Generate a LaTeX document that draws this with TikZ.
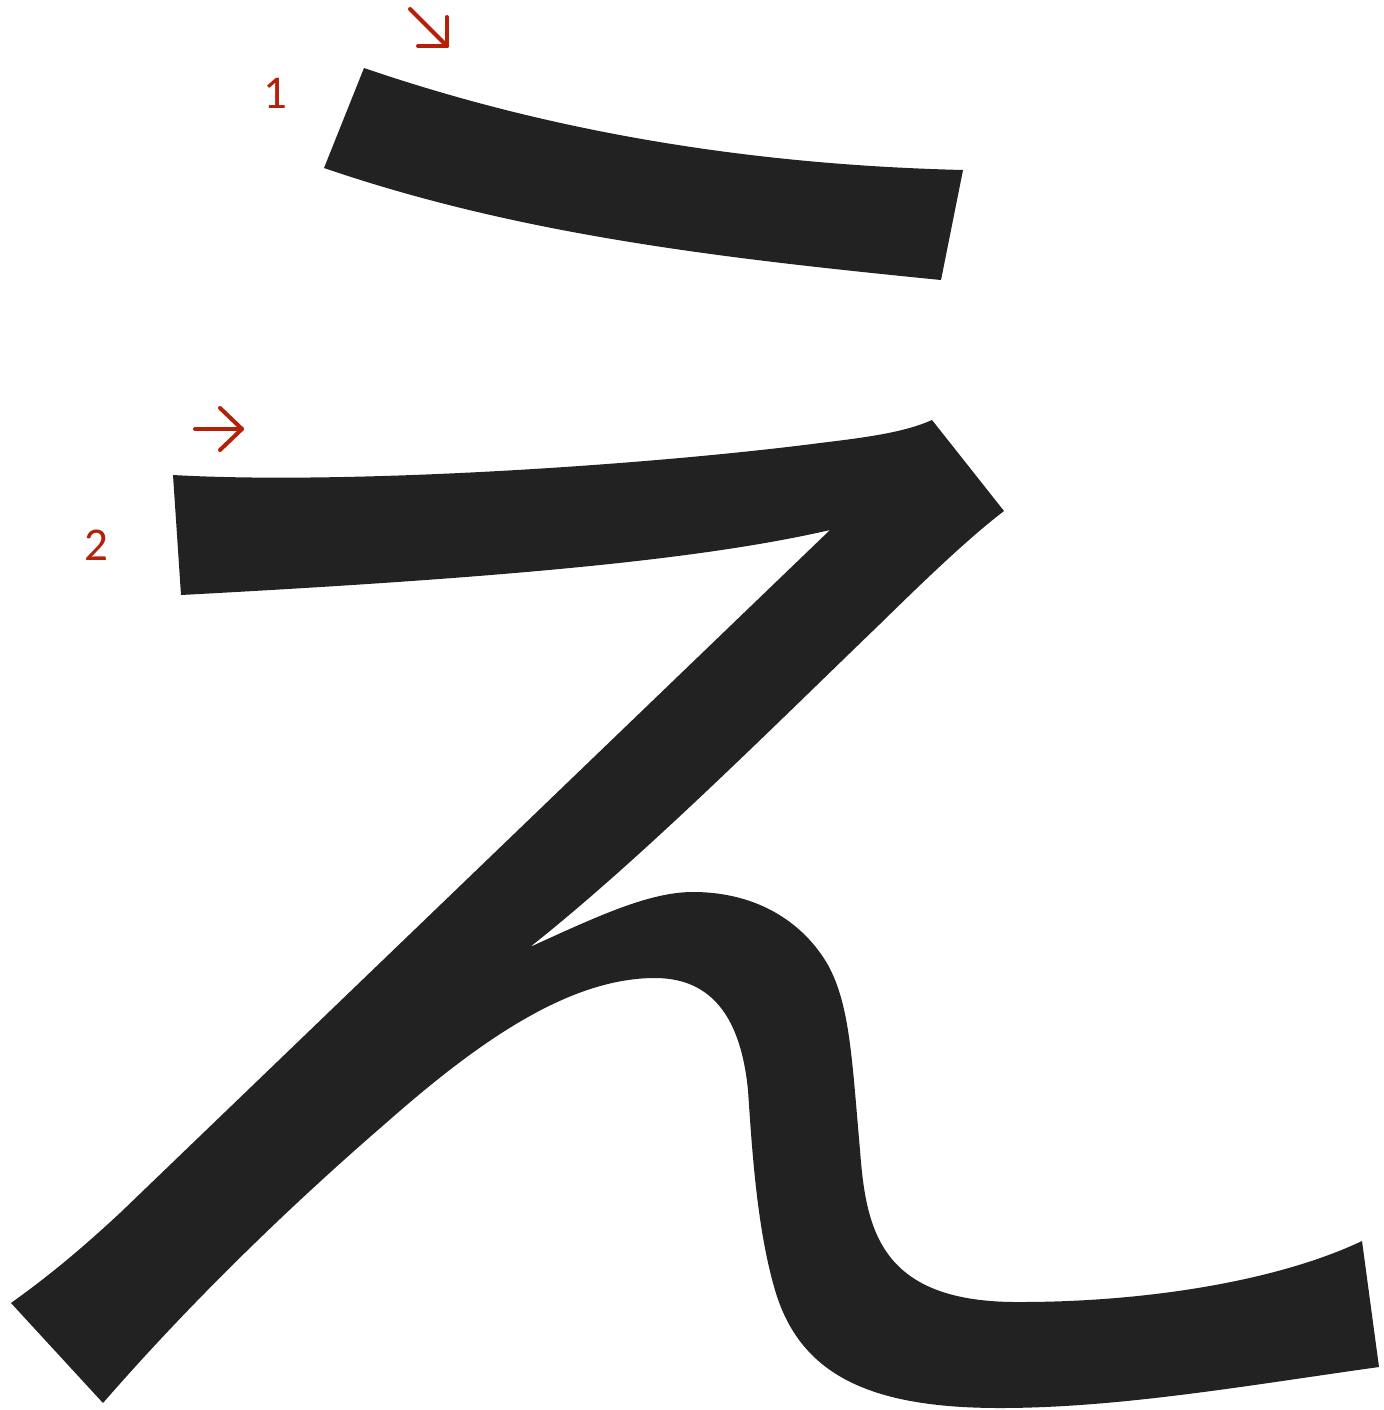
\documentclass[tikz,border=0pt]{standalone}
\usepackage{fontspec}
\setmainfont{Carlito}
\definecolor{ink}{HTML}{222222}
\definecolor{mark}{RGB}{180,32,8}
\begin{document}
\begin{tikzpicture}[x=0.5pt,y=-0.5pt,
  glyph/.style={fill=ink},
  hint/.style={draw=mark,line width=2pt,line cap=round,line join=round},
  num/.style={text=mark,font=\fontsize{23.5}{28}\selectfont,inner sep=0pt}]
\useasboundingbox (0,0) rectangle (1384,1410);
% stroke 1
\fill[glyph] (364,68) .. controls (560,135) and (760,165) .. (963,170)
  -- (941,280) .. controls (720,258) and (520,235) .. (324,168) -- cycle;
% stroke 2
\fill[glyph] (173,475) .. controls (350,485) and (650,465) .. (820,443)
  .. controls (870,437) and (905,432) .. (932,420)
  -- (1004,511) .. controls (970,537) and (930,575) .. (880,624)
  .. controls (770,730) and (640,860) .. (530,947)
  .. controls (600,915) and (650,892) .. (693,892)
  .. controls (760,892) and (805,925) .. (828,965)
  .. controls (850,1005) and (852,1060) .. (860,1150)
  .. controls (866,1230) and (880,1303) .. (1020,1302)
  .. controls (1150,1302) and (1280,1280) .. (1362,1241)
  -- (1379,1367) .. controls (1250,1385) and (1120,1408) .. (1000,1408)
  .. controls (870,1408) and (800,1375) .. (775,1290)
  .. controls (757,1229) and (752,1150) .. (748,1090)
  .. controls (742,1030) and (720,978) .. (655,978)
  .. controls (570,978) and (480,1040) .. (386,1123)
  .. controls (320,1180) and (210,1280) .. (103,1403)
  -- (11,1303) .. controls (50,1275) and (80,1250) .. (120,1213)
  -- (830,530) .. controls (700,560) and (500,578) .. (181,595) -- cycle;
% stroke numbers
\node[num] (n1) at (275,93) {1};
\node[num] (n2) at (96,545) {2};
% direction hints
\coordinate (a1s) at (410,9);
\coordinate (a1e) at (447,46);
\coordinate (a1l) at (418,46);
\coordinate (a1u) at (447,17);
\draw[hint] (a1s) -- (a1e);
\draw[hint] (a1l) -- (a1e) -- (a1u);
\coordinate (a2s) at (195,429);
\coordinate (a2e) at (242,429);
\coordinate (a2u) at (220,408);
\coordinate (a2d) at (220,450);
\draw[hint] (a2s) -- (a2e);
\draw[hint] (a2u) -- (a2e) -- (a2d);
\end{tikzpicture}
\end{document}
